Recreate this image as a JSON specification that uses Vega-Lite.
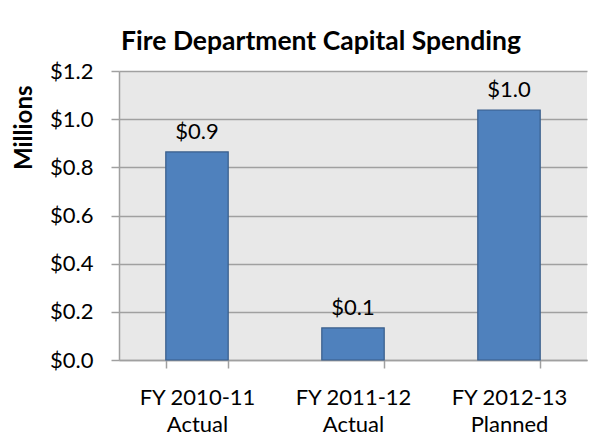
{
  "$schema": "https://vega.github.io/schema/vega-lite/v6.json",
  "autosize": "none",
  "width": 468,
  "height": 289,
  "padding": {"left": 119, "top": 71, "right": 13, "bottom": 79},
  "background": "white",
  "title": {
    "text": "Fire Department Capital Spending",
    "font": "Lato",
    "fontSize": 26.5,
    "fontWeight": "bold",
    "color": "#000000",
    "anchor": "middle",
    "dx": -32,
    "offset": 5
  },
  "data": {
    "values": [
      {"period": "FY 2010-11 Actual", "value": 0.864, "label": "$0.9"},
      {"period": "FY 2011-12 Actual", "value": 0.133, "label": "$0.1"},
      {"period": "FY 2012-13 Planned", "value": 1.038, "label": "$1.0"}
    ]
  },
  "config": {
    "view": {"fill": "#e8e8e8", "stroke": null},
    "font": "Lato"
  },
  "encoding": {
    "x": {
      "field": "period",
      "type": "nominal",
      "sort": null,
      "scale": {"paddingInner": 0.6, "paddingOuter": 0.3},
      "axis": {
        "title": null,
        "labelAngle": 0,
        "labelExpr": "[slice(datum.label,0,10), slice(datum.label,11)]",
        "labelFont": "Lato",
        "labelFontSize": 22,
        "labelColor": "#000000",
        "labelLineHeight": 27,
        "labelPadding": 19,
        "tickBand": "extent",
        "tickSize": 8,
        "tickColor": "#a0a0a0",
        "tickWidth": 1.5,
        "domainColor": "#a0a0a0",
        "domainWidth": 1.5
      }
    },
    "y": {
      "field": "value",
      "type": "quantitative",
      "scale": {"domain": [0, 1.2], "nice": false},
      "axis": {
        "title": "Millions",
        "titleFont": "Lato",
        "titleFontSize": 24,
        "titleFontWeight": "bold",
        "titleColor": "#000000",
        "titleAnchor": "end",
        "titleY": 14,
        "titlePadding": 13,
        "values": [0, 0.2, 0.4, 0.6, 0.8, 1.0, 1.2],
        "labelExpr": "'$' + format(datum.value, '.1f')",
        "labelFont": "Lato",
        "labelFontSize": 22,
        "labelColor": "#000000",
        "labelPadding": 18,
        "tickSize": 8,
        "tickColor": "#a0a0a0",
        "tickWidth": 1.5,
        "domainColor": "#a0a0a0",
        "domainWidth": 1.5,
        "gridColor": "#a0a0a0",
        "gridWidth": 1.5,
        "gridOpacity": 1
      }
    }
  },
  "layer": [
    {
      "mark": {"type": "bar", "color": "#4f81bd", "stroke": "#385d8a", "strokeWidth": 1.2}
    },
    {
      "mark": {"type": "text", "baseline": "bottom", "dy": -8, "fontSize": 22, "font": "Lato", "color": "#000000"},
      "encoding": {"text": {"field": "label"}}
    }
  ]
}
